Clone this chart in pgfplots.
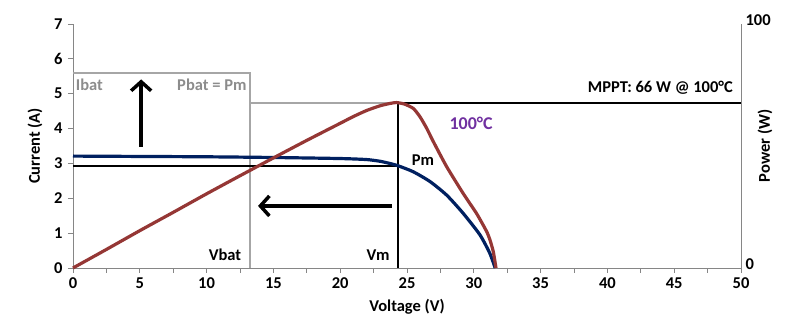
\documentclass[border=0pt]{standalone}
\usepackage{pgfplots}
\pgfplotsset{compat=1.18}
\usepackage{fontspec}
\setmainfont{Carlito}
\usetikzlibrary{arrows.meta}
\definecolor{axisgray}{HTML}{868686}
\definecolor{linegray}{HTML}{A6A6A6}
\definecolor{textgray}{HTML}{8C8C8C}
\definecolor{ivblue}{HTML}{002060}
\definecolor{pvred}{HTML}{953735}
\definecolor{tpurple}{HTML}{7030A0}
\begin{document}
\begin{tikzpicture}[font=\fontsize{16.5}{19}\selectfont\bfseries]
\begin{axis}[
  name=main,
  scale only axis, width=668pt, height=244pt,
  xmin=0, xmax=50, ymin=0, ymax=7,
  axis lines=left, axis line style={-, draw=axisgray, line width=0.8pt},
  xtick={0,5,...,50}, minor xtick={2.5,7.5,...,47.5},
  ytick={0,1,...,7},
  tick align=outside, major tick length=5pt, minor tick length=5pt,
  every tick/.style={axisgray, line width=0.8pt},
  /pgf/number format/assume math mode=true,
  xticklabel style={yshift=-1pt},
  yticklabel style={xshift=-2pt},
  xlabel={Voltage (V)}, ylabel={Current (A)},
  xlabel style={at={(axis description cs:0.5,0)}, anchor=center, yshift=-39pt},
  ylabel style={at={(axis description cs:0,0.5)}, anchor=center, xshift=0pt, yshift=38pt},
  clip=false,
]
% gray battery lines
\addplot[linegray, line width=2pt] coordinates {(0,5.6) (13.25,5.6) (13.25,0)};
\addplot[linegray, line width=2pt] coordinates {(13.25,4.725) (24.35,4.725)};
% black MPP lines
\addplot[black, line width=1.9pt] coordinates {(24.35,0) (24.35,4.725) (50,4.725)};
\addplot[black, line width=1.9pt] coordinates {(0,2.93) (24.35,2.93)};
% I-V curve
\addplot[ivblue, line width=3.2pt, smooth, tension=0.4] coordinates {
(0,3.21) (5,3.20) (10,3.19) (15,3.17) (20,3.14) (22,3.11) (23,3.06) (23.7,3.00)
(24.35,2.93) (25.47,2.76) (26.72,2.48) (27.97,2.09) (29.2,1.57) (30.46,0.95) (31.2,0.42) (31.6,0)};
% arrows
\addplot[black, line width=3.5pt, -{Straight Barb[length=9pt,width=20pt]}] coordinates {(5.1,3.48) (5.1,5.41)};
\addplot[black, line width=3.5pt, -{Straight Barb[length=9pt,width=20pt]}] coordinates {(23.85,1.78) (13.85,1.78)};
% labels
\node[textgray, anchor=west, inner sep=0pt] at (axis cs:0.2,5.25) {Ibat};
\node[textgray, anchor=east, inner sep=0pt] at (axis cs:13.0,5.25) {Pbat = Pm};
\node[black, anchor=east, inner sep=0pt] at (axis cs:49.4,5.16) {MPPT: 66 W @ 100°C};
\node[tpurple, anchor=center, inner sep=0pt, font=\fontsize{18}{20}\selectfont\bfseries] at (axis cs:29.8,4.15) {100°C};
\node[black, anchor=center, inner sep=0pt] at (axis cs:26.2,3.1) {Pm};
\node[black, anchor=east, inner sep=0pt] at (axis cs:23.7,0.37) {Vm};
\node[black, anchor=east, inner sep=0pt] at (axis cs:12.6,0.37) {Vbat};
\end{axis}
\begin{axis}[
  scale only axis, width=668pt, height=244pt,
  xmin=0, xmax=50, ymin=0, ymax=100,
  axis x line=none, axis y line*=right,
  axis line style={-, draw=axisgray, line width=0.8pt},
  ytick={0,100}, major tick length=0pt,
  /pgf/number format/assume math mode=true,
  yticklabel style={xshift=1pt, yshift=4pt},
  ylabel={Power (W)},
  ylabel style={at={(axis description cs:1,0.5)}, anchor=center, rotate=0, yshift=-24pt},
  clip=false,
]
\addplot[pvred, line width=3.2pt, smooth, tension=0.35] coordinates {
(0,0) (2.5,7.6) (5,15.3) (7.5,22.8) (10,30.4) (12.5,37.8) (15,45.1) (17.5,52.3) (20,59.3)
(21,62.1) (22,64.6) (23,66.5) (23.7,67.4) (24.2,67.8) (24.8,67.2)
(25.47,65.4) (25.97,62.0) (26.47,57.3) (26.97,51.8) (27.97,41.5) (29.2,30.6) (30.2,22.4) (30.71,17.5) (31.0,14.5) (31.21,11.5) (31.46,6.7) (31.66,0)};
\end{axis}
\pgfresetboundingbox
\path ([shift={(-73pt,-60pt)}]main.south west) rectangle ([shift={(68pt,24pt)}]main.north east);
\end{tikzpicture}
\end{document}
